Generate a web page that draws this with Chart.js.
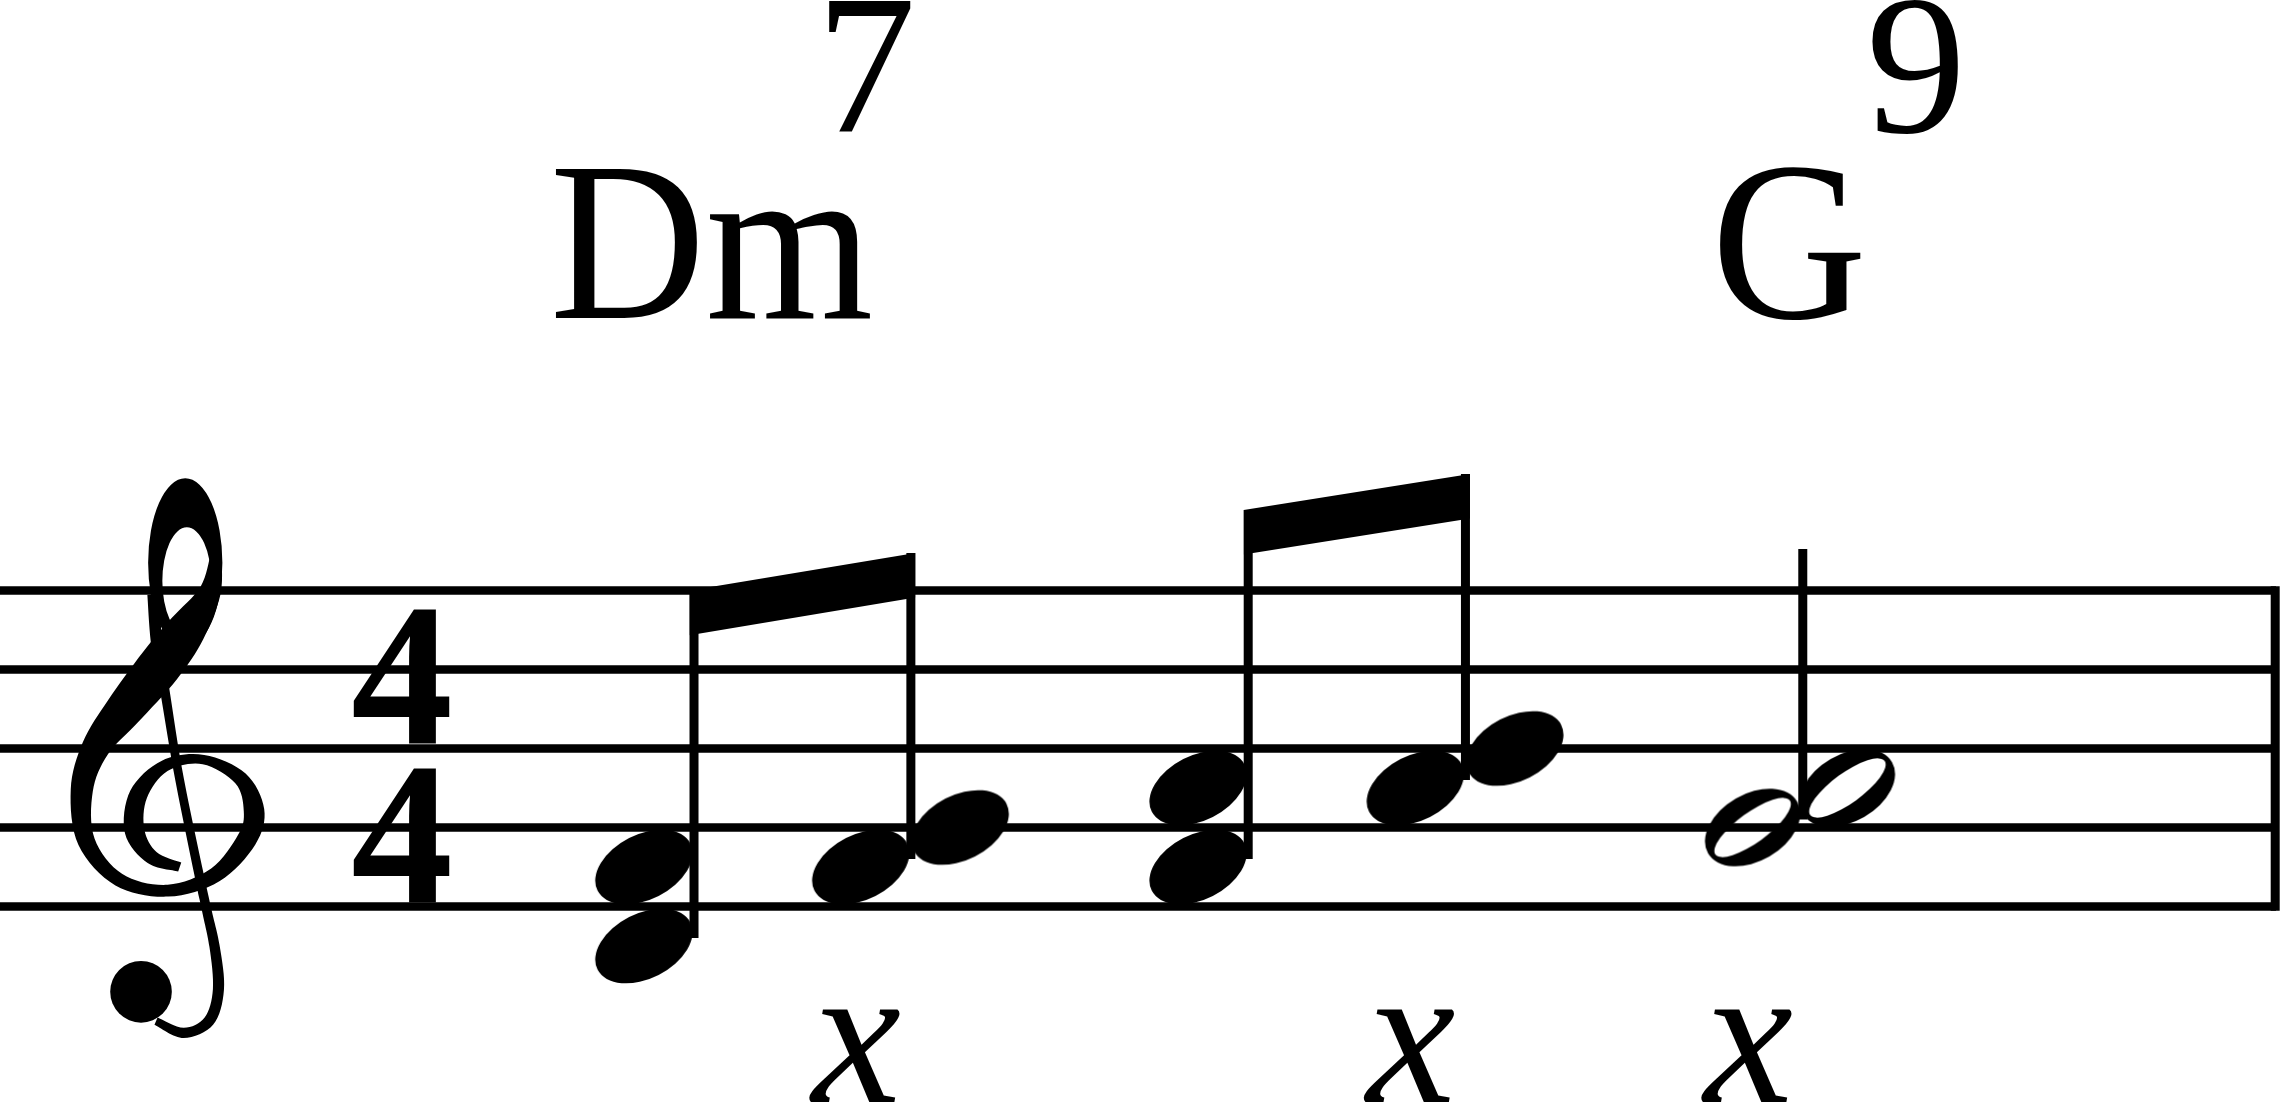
<!DOCTYPE html>
<html>
<head>
<meta charset="utf-8">
<title>Dm7 – G9</title>
<script src="https://cdn.jsdelivr.net/npm/chart.js@4.4.1/dist/chart.umd.min.js"></script>
<style>
  html, body { margin: 0; padding: 0; background: #fff; overflow: hidden; }
  #wrap { width: 2280px; height: 1103px; }
</style>
</head>
<body>
<div id="wrap"><canvas id="score" width="2280" height="1103"></canvas></div>
<script>
// Music data. Pitch is measured in staff steps: 0 = bottom line (E4), 1 step = half a space.
const chordNotes = [['D4', 'F4'], ['F4', 'G4'], ['F4', 'A4'], ['A4', 'B4'], ['G4', 'A4']];
const chordValues = [8, 8, 8, 8, 2];          // eighth x4, then a half
const beamGroups = [[0, 1], [2, 3]];
const chordSymbols = ['Dm', 'G'];
const chordExtensions = ['7', '9'];
const markings = ['', 'x', '', 'x', 'x'];
const timeSignature = ['4', '4'];
const staffLines = [0, 2, 4, 6, 8];

// Engraving layout (x in staff spaces from the left edge, y in staff steps)
const chordColumns = [8.785, 11.53, 15.80, 18.55, 22.82];
const beamTops = [[8.0, 8.95], [10.04, 10.95]];
const chordSymbolAt = [6.96, 21.66];
const chordExtensionAt = [10.33, 23.62];

const X_MAX = 2280 / 79;
const Y_MAX = 906.5 / 39.5;
const Y_MIN = Y_MAX - 1103 / 39.5;
const STAFF_END = 28.81;
const BAR_X = 28.80;
const BEAM_THICK = 1.13;
const STEM_HALF = 0.057;
const SERIF = '"Liberation Serif", "Times New Roman", serif';

const STEP = { C: -2, D: -1, E: 0, F: 1, G: 2, A: 3, B: 4 };
const stepOf = n => STEP[n[0]] + (parseInt(n.slice(1), 10) - 4) * 7;

function headImage(hollow) {
  const c = document.createElement('canvas');
  c.width = 120; c.height = 100;
  const g = c.getContext('2d');
  g.translate(60, 50);
  g.fillStyle = '#000';
  g.beginPath();
  if (hollow) g.ellipse(0, 0, 51.5, 33.5, -30 * Math.PI / 180, 0, Math.PI * 2);
  else g.ellipse(0, 0, 52, 32.5, -27 * Math.PI / 180, 0, Math.PI * 2);
  g.fill();
  if (hollow) {
    g.globalCompositeOperation = 'destination-out';
    g.beginPath();
    g.ellipse(0, 0, 46, 15, -36 * Math.PI / 180, 0, Math.PI * 2);
    g.fill();
  }
  return c;
}

function lineSet(data, width, order, extra) {
  return Object.assign({
    type: 'line', data, borderColor: '#000', borderWidth: width,
    pointRadius: 0, fill: false, tension: 0, order
  }, extra || {});
}

const datasets = [];

// staff + bar line
staffLines.forEach(s => datasets.push(lineSet([{ x: 0, y: s }, { x: STAFF_END, y: s }], 8.3, 10)));
datasets.push(lineSet([{ x: BAR_X, y: -0.105 }, { x: BAR_X, y: 8.105 }], 9, 10));

// stems
chordColumns.forEach((col, i) => {
  const steps = chordNotes[i].map(stepOf);
  const low = Math.min(...steps);
  let top = low + 7.05;
  const g = beamGroups.findIndex(gr => gr.includes(i));
  if (g >= 0) {
    const [a, b] = beamGroups[g];
    const t = (col - chordColumns[a]) / (chordColumns[b] - chordColumns[a]);
    top = beamTops[g][0] + t * (beamTops[g][1] - beamTops[g][0]);
  }
  datasets.push(lineSet([{ x: col, y: low + 0.2 }, { x: col, y: top }], 9, 6));
});

// beams: top edge filled down to the bottom edge
beamGroups.forEach((gr, g) => {
  const x0 = chordColumns[gr[0]] - STEM_HALF;
  const x1 = chordColumns[gr[1]] + STEM_HALF;
  const [t0, t1] = beamTops[g];
  datasets.push(lineSet([{ x: x0, y: t0 }, { x: x1, y: t1 }], 0, 5, { fill: '+1', backgroundColor: '#000' }));
  datasets.push(lineSet([{ x: x0, y: t0 - BEAM_THICK }, { x: x1, y: t1 - BEAM_THICK }], 0, 5));
});

// noteheads
const filledHeads = [], hollowHeads = [];
chordNotes.forEach((notes, i) => {
  const hollow = chordValues[i] <= 2;
  const steps = notes.map(stepOf).sort((a, b) => a - b);
  let prev = null, prevRight = false;
  steps.forEach(s => {
    const right = prev !== null && s - prev === 1 && !prevRight;
    const off = right ? (hollow ? 0.565 : 0.625) : -0.635;
    (hollow ? hollowHeads : filledHeads).push({ x: chordColumns[i] + off, y: s });
    prev = s; prevRight = right;
  });
});
datasets.push({ type: 'line', data: filledHeads, showLine: false, pointStyle: headImage(false), pointRadius: 5, order: 1 });
datasets.push({ type: 'line', data: hollowHeads, showLine: false, pointStyle: headImage(true), pointRadius: 5, order: 1 });

// smooth curve through points (Catmull-Rom as cubic Beziers)
function smooth(ctx, pts, cont) {
  if (cont) ctx.lineTo(pts[0][0], pts[0][1]);
  else ctx.moveTo(pts[0][0], pts[0][1]);
  for (let i = 0; i < pts.length - 1; i++) {
    const p0 = pts[i - 1] || pts[i], p1 = pts[i], p2 = pts[i + 1], p3 = pts[i + 2] || p2;
    ctx.bezierCurveTo(p1[0] + (p2[0] - p0[0]) / 6, p1[1] + (p2[1] - p0[1]) / 6,
      p2[0] - (p3[0] - p1[0]) / 6, p2[1] - (p3[1] - p1[1]) / 6, p2[0], p2[1]);
  }
}

// filled stroke of varying width, points are [x, y, width] in staff spaces (y up)
function ribbon(ctx, pts, cx, cy, sp) {
  const L = [], R = [];
  pts.forEach((p, i) => {
    const a = pts[Math.max(0, i - 1)], b = pts[Math.min(pts.length - 1, i + 1)];
    const dx = b[0] - a[0], dy = b[1] - a[1];
    const len = Math.hypot(dx, dy) || 1;
    const nx = -dy / len, ny = dx / len, h = p[2] / 2;
    L.push([cx + (p[0] + nx * h) * sp, cy - (p[1] + ny * h) * sp]);
    R.push([cx + (p[0] - nx * h) * sp, cy - (p[1] - ny * h) * sp]);
  });
  ctx.beginPath();
  smooth(ctx, L, false);
  smooth(ctx, R.reverse(), true);
  ctx.closePath();
  ctx.fill();
}

function drawClef(ctx, cx, cy, sp) {
  // spine with bottom hook
  ribbon(ctx, [[-0.05, -2.45, 0.1], [0.3, -2.6, 0.13], [0.62, -2.45, 0.14], [0.74, -2.05, 0.14],
    [0.69, -1.5, 0.13], [0.56, -0.9, 0.12], [0.25, 0.6, 0.11], [0.06, 1.74, 0.12],
    [-0.04, 2.31, 0.14], [-0.08, 2.95, 0.16]], cx, cy, sp);
  // upper loop
  ctx.beginPath();
  ctx.ellipse(cx + 0.32 * sp, cy - 3.35 * sp, 0.47 * sp, 1.07 * sp, 0, 0, Math.PI * 2);
  ctx.moveTo(cx + 0.65 * sp, cy - 3.12 * sp);
  ctx.ellipse(cx + 0.34 * sp, cy - 3.12 * sp, 0.31 * sp, 0.68 * sp, 0, 0, Math.PI * 2);
  ctx.fill('evenodd');
  // diagonal, bowl and inner curl
  ribbon(ctx, [[0.71, 3.45, 0.14], [0.64, 3.0, 0.27], [0.35, 2.52, 0.48], [0.0, 2.05, 0.55],
    [-0.47, 1.47, 0.47], [-0.82, 1.0, 0.35], [-0.99, 0.47, 0.28], [-0.93, -0.18, 0.22],
    [-0.52, -0.66, 0.17], [0.1, -0.8, 0.15], [0.7, -0.6, 0.19], [1.1, -0.15, 0.25],
    [1.19, 0.22, 0.26], [1.02, 0.62, 0.18], [0.55, 0.86, 0.12], [0.06, 0.78, 0.15],
    [-0.27, 0.42, 0.23], [-0.32, -0.05, 0.25], [-0.1, -0.38, 0.18], [0.25, -0.5, 0.12]], cx, cy, sp);
  // ball
  ctx.beginPath();
  ctx.arc(cx - 0.24 * sp, cy + 2.08 * sp, 0.39 * sp, 0, Math.PI * 2);
  ctx.fill();
}

function squeezedText(ctx, s, x, y, k) {
  ctx.save();
  ctx.translate(x, y);
  ctx.scale(k, 1);
  ctx.fillText(s, 0, 0);
  ctx.restore();
}

const engraving = {
  id: 'engraving',
  afterDatasetsDraw(chart) {
    const { ctx, scales: { x, y } } = chart;
    const sp = x.getPixelForValue(1) - x.getPixelForValue(0);
    const px = v => x.getPixelForValue(v);
    const py = v => y.getPixelForValue(v);
    ctx.save();
    ctx.fillStyle = '#000';

    drawClef(ctx, px(2.025), py(2), sp);

    ctx.textBaseline = 'alphabetic';
    ctx.textAlign = 'center';
    ctx.font = `bold ${Math.round(2.58 * sp)}px ${SERIF}`;
    ctx.fillText(timeSignature[0], px(5.09), py(4.14));
    ctx.fillText(timeSignature[1], px(5.09), py(0.11));

    ctx.textAlign = 'left';
    chordSymbols.forEach((s, i) => {
      ctx.font = `${Math.round(2.87 * sp)}px ${SERIF}`;
      squeezedText(ctx, s, px(chordSymbolAt[i]), py(14.9), 0.95);
      ctx.font = `${Math.round(2.53 * sp)}px ${SERIF}`;
      ctx.fillText(chordExtensions[i], px(chordExtensionAt[i]), py(19.62));
    });

    ctx.textAlign = 'center';
    ctx.font = `italic ${Math.round(2.55 * sp)}px ${SERIF}`;
    markings.forEach((m, i) => {
      if (m) ctx.fillText(m, px(chordColumns[i] - 0.69), py(-4.96));
    });
    ctx.restore();
  }
};

const chart = new Chart(document.getElementById('score'), {
  type: 'line',
  data: { datasets },
  options: {
    responsive: false,
    animation: false,
    events: [],
    devicePixelRatio: 1,
    layout: { padding: 0, autoPadding: false },
    plugins: { legend: { display: false }, tooltip: { enabled: false } },
    scales: {
      x: { type: 'linear', min: 0, max: X_MAX, display: false },
      y: { type: 'linear', min: Y_MIN, max: Y_MAX, display: false }
    }
  },
  plugins: [engraving]
});
</script>
</body>
</html>
